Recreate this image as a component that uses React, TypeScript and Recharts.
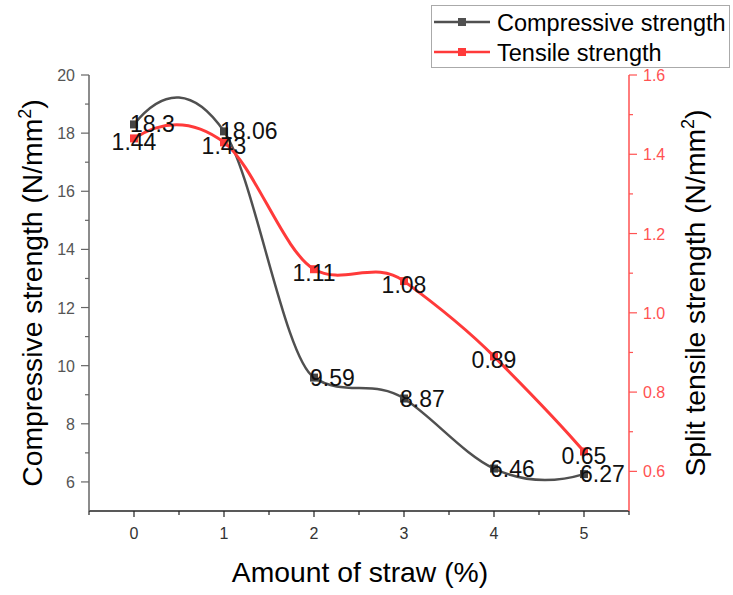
import React from 'react';
import { LineChart, Line, XAxis, YAxis, LabelList, Legend } from 'recharts';

// amount of straw (%)
const strawAmount = [0, 1, 2, 3, 4, 5];
// N/mm2
const compressive = [18.3, 18.06, 9.59, 8.87, 6.46, 6.27];
const tensile = [1.44, 1.43, 1.11, 1.08, 0.89, 0.65];

const xTicks = [-0.5, 0, 0.5, 1, 1.5, 2, 2.5, 3, 3.5, 4, 4.5, 5, 5.5];
const leftTicks = [6, 7, 8, 9, 10, 11, 12, 13, 14, 15, 16, 17, 18, 19, 20];
const rightTicks = [0.6, 0.7, 0.8, 0.9, 1.0, 1.1, 1.2, 1.3, 1.4, 1.5, 1.6];

const data = strawAmount.map((x, i) => ({ x, comp: compressive[i], tens: tensile[i] }));

const FONT = '"Liberation Sans", Arial, sans-serif';
const GREY = '#505050';
const RED = '#ff3a3a';
const RED_AXIS = '#ff5252';

// Akima spline as a d3-style curve factory (Origin draws its "spline" lines this way)
function akimaCurve(context: any) {
  let xs: number[] = [];
  let ys: number[] = [];
  let line = NaN;
  return {
    areaStart() { line = 0; },
    areaEnd() { line = NaN; },
    lineStart() { xs = []; ys = []; },
    point(x: number, y: number) { xs.push(+x); ys.push(+y); },
    lineEnd() {
      const n = xs.length;
      if (n) {
        if (line) context.lineTo(xs[0], ys[0]);
        else context.moveTo(xs[0], ys[0]);
        if (n === 2) {
          context.lineTo(xs[1], ys[1]);
        } else if (n > 2) {
          // secants with two extra on each side, index k+2 = m_k
          const m: number[] = new Array(n + 3);
          for (let k = 0; k < n - 1; k++) {
            m[k + 2] = (ys[k + 1] - ys[k]) / (xs[k + 1] - xs[k]);
          }
          m[1] = 2 * m[2] - m[3];
          m[0] = 2 * m[1] - m[2];
          m[n + 1] = 2 * m[n] - m[n - 1];
          m[n + 2] = 2 * m[n + 1] - m[n];
          const t: number[] = [];
          for (let i = 0; i < n; i++) {
            const mm2 = m[i], mm1 = m[i + 1], m0 = m[i + 2], mp1 = m[i + 3];
            const w1 = Math.abs(mp1 - m0);
            const w2 = Math.abs(mm1 - mm2);
            t[i] = w1 + w2 < 1e-9 ? (mm1 + m0) / 2 : (w1 * mm1 + w2 * m0) / (w1 + w2);
          }
          for (let i = 0; i < n - 1; i++) {
            const h = (xs[i + 1] - xs[i]) / 3;
            context.bezierCurveTo(
              xs[i] + h, ys[i] + t[i] * h,
              xs[i + 1] - h, ys[i + 1] - t[i + 1] * h,
              xs[i + 1], ys[i + 1]
            );
          }
        }
      }
      if (line || (line !== 0 && n === 1)) context.closePath();
      line = 1 - line;
    },
  };
}

const BottomTick = (p: any) => {
  const major = Number.isInteger(p.payload.value);
  return (
    <g>
      <line x1={p.x} y1={p.y} x2={p.x} y2={p.y + (major ? 6 : 4)} stroke="#222" strokeWidth={1.2} />
      {major && (
        <text x={p.x} y={p.y + 28} textAnchor="middle" fontSize={16} fill="#333">{p.payload.value}</text>
      )}
    </g>
  );
};

const TopTick = (p: any) => {
  const major = Number.isInteger(p.payload.value);
  return <line x1={p.x} y1={p.y} x2={p.x} y2={p.y + (major ? 8 : 4)} stroke="#222" strokeWidth={1.2} />;
};

const LeftTick = (p: any) => {
  const major = p.payload.value % 2 === 0;
  return (
    <g>
      <line x1={p.x} y1={p.y} x2={p.x - (major ? 8 : 4)} y2={p.y} stroke="#666" strokeWidth={1.2} />
      {major && (
        <text x={p.x - 14} y={p.y + 6} textAnchor="end" fontSize={16} fill="#555">{p.payload.value}</text>
      )}
    </g>
  );
};

const RightTick = (p: any) => {
  const major = Math.round(p.payload.value * 10) % 2 === 0;
  return (
    <g>
      <line x1={p.x} y1={p.y} x2={p.x + (major ? 8 : 4)} y2={p.y} stroke={RED_AXIS} strokeWidth={1.2} />
      {major && (
        <text x={p.x + 14} y={p.y + 6} textAnchor="start" fontSize={16} fill={RED_AXIS}>{p.payload.value.toFixed(1)}</text>
      )}
    </g>
  );
};

const CompLabel = (p: any) => (
  <text x={p.x - 4} y={p.y + 8} fontSize={23} fill="#111" textAnchor="start">{p.value}</text>
);

const TensLabel = (p: any) => (
  <text x={p.x} y={p.y + 12} fontSize={23} fill="#111" textAnchor="middle">{p.value}</text>
);

const squareDot = (color: string) => (p: any) => (
  <rect key={'d' + p.index} x={p.cx - 4} y={p.cy - 4} width={8} height={8} fill={color} />
);

const LeftTitle = () => (
  <text transform="translate(42,293) rotate(-90)" textAnchor="middle" fontSize={28.3} fill="#000">
    Compressive strength (N/mm<tspan dy={-11} fontSize={18}>2</tspan><tspan dy={11}>)</tspan>
  </text>
);

const RightTitle = () => (
  <text transform="translate(705,293) rotate(-90)" textAnchor="middle" fontSize={28.3} fill="#000">
    Split tensile strength (N/mm<tspan dy={-11} fontSize={18}>2</tspan><tspan dy={11}>)</tspan>
  </text>
);

const BottomTitle = () => (
  <text x={360} y={582} textAnchor="middle" fontSize={28.3} fill="#000">Amount of straw (%)</text>
);

const renderLegend = () => (
  <div style={{ width: 299, height: 63, border: '1px solid #aaa', boxSizing: 'border-box', background: '#fff' }}>
    <svg width={297} height={61} style={{ display: 'block', fontFamily: FONT }}>
      <line x1={2} y1={16} x2={58} y2={16} stroke={GREY} strokeWidth={2.5} />
      <rect x={26} y={12} width={8} height={8} fill={GREY} />
      <text x={65} y={24.5} fontSize={23.5} fill="#000">Compressive strength</text>
      <line x1={2} y1={46} x2={58} y2={46} stroke={RED} strokeWidth={2.5} />
      <rect x={26} y={42} width={8} height={8} fill={RED} />
      <text x={65} y={54.5} fontSize={23.5} fill="#000">Tensile strength</text>
    </svg>
  </div>
);

export default function App() {
  return (
    <div style={{ position: 'absolute', left: 0, top: 0, background: '#fff' }}>
      <LineChart
        width={733}
        height={595}
        data={data}
        margin={{ top: 75, right: 44, left: 29, bottom: 54 }}
        style={{ fontFamily: FONT }}
      >
        <XAxis
          dataKey="x"
          type="number"
          domain={[-0.5, 5.5]}
          ticks={xTicks}
          interval={0}
          tickSize={0}
          tickMargin={0}
          tickLine={false}
          tick={<BottomTick />}
          axisLine={{ stroke: '#222', strokeWidth: 1.5 }}
          height={30}
          label={{ content: () => <BottomTitle /> }}
        />
        <XAxis
          xAxisId="top"
          orientation="top"
          dataKey="x"
          type="number"
          domain={[-0.5, 5.5]}
          ticks={xTicks}
          interval={0}
          tickSize={0}
          tickMargin={0}
          tickLine={false}
          tick={<TopTick />}
          axisLine={{ stroke: '#222', strokeWidth: 1.5 }}
          height={0}
        />
        <YAxis
          yAxisId="left"
          orientation="left"
          type="number"
          domain={[5, 20]}
          ticks={leftTicks}
          interval={0}
          tickSize={0}
          tickMargin={0}
          tickLine={false}
          tick={<LeftTick />}
          axisLine={{ stroke: '#666', strokeWidth: 1.5 }}
          width={60}
          label={{ content: () => <LeftTitle /> }}
        />
        <YAxis
          yAxisId="right"
          orientation="right"
          type="number"
          domain={[0.5, 1.6]}
          ticks={rightTicks}
          interval={0}
          tickSize={0}
          tickMargin={0}
          tickLine={false}
          tick={<RightTick />}
          axisLine={{ stroke: RED_AXIS, strokeWidth: 1.5 }}
          width={60}
          label={{ content: () => <RightTitle /> }}
        />
        <Legend
          layout="horizontal"
          verticalAlign="middle"
          align="center"
          content={renderLegend}
          wrapperStyle={{ top: 5, left: 431, width: 299, height: 63 }}
        />
        <Line
          yAxisId="left"
          name="Compressive strength"
          type={akimaCurve as any}
          dataKey="comp"
          stroke={GREY}
          strokeWidth={2.5}
          dot={squareDot('#444')}
          activeDot={false}
          isAnimationActive={false}
        >
          <LabelList dataKey="comp" content={<CompLabel />} />
        </Line>
        <Line
          yAxisId="right"
          name="Tensile strength"
          type={akimaCurve as any}
          dataKey="tens"
          stroke={RED}
          strokeWidth={3}
          dot={squareDot(RED)}
          activeDot={false}
          isAnimationActive={false}
        >
          <LabelList dataKey="tens" content={<TensLabel />} />
        </Line>
      </LineChart>
    </div>
  );
}
